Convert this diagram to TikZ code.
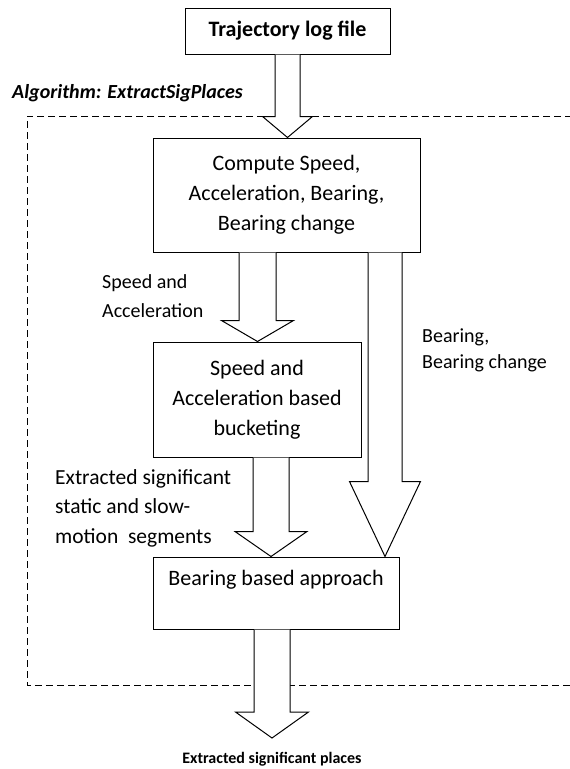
\documentclass[tikz,border=0pt]{standalone}
\usepackage{fontspec}
\setmainfont{Carlito}
\usetikzlibrary{calc}
\tikzset{
  box/.style={draw, line width=1pt, fill=white, inner sep=0pt, align=center,
    font=\fontsize{22}{30}\selectfont},
  lbl/.style={anchor=west, inner sep=0pt, align=left,
    font=\fontsize{20}{29}\selectfont},
  arrowbody/.style={draw, line width=1pt, fill=white, line join=miter},
  frame/.style={draw, line width=1pt, dash pattern=on 7pt off 4pt}
}
\newcommand\blockarrow[5]{%
  \path[arrowbody] let \p1=(#1), \p2=(#2) in
    (\x2-#3pt,\y1) -- (\x2-#3pt,\y2+#5pt) -- (\x2-#4pt,\y2+#5pt) -- (\x2,\y2)
    -- (\x2+#4pt,\y2+#5pt) -- (\x2+#3pt,\y2+#5pt) -- (\x2+#3pt,\y1);}
\begin{document}
\begin{tikzpicture}[x=1pt,y=-1pt]
\useasboundingbox (0,0) rectangle (570,769);
% dashed algorithm frame
\draw[frame] (572,116) -- (27,116) -- (27,685) -- (572,685);
\node[lbl, font=\fontsize{20}{24}\selectfont\bfseries\itshape] (alg) at (12,93) {Algorithm: ExtractSigPlaces};
% boxes
\node[box, font=\fontsize{22}{30}\selectfont\bfseries, minimum width=205pt, minimum height=46pt] (traj) at (287.5,31) {Trajectory log file};
\node[box, minimum width=267pt, minimum height=114pt] (compute) at (286.5,195) {Compute Speed,\\Acceleration, Bearing,\\Bearing change};
\node[box, minimum width=208pt, minimum height=115pt] (bucket) at (257,399.5) {Speed and\\Acceleration based\\bucketing};
\node[box, minimum width=246pt, minimum height=72pt] (bearing) at (276,593) {Bearing based approach\\\mbox{}};
\node[anchor=north, inner xsep=0pt, inner ysep=14pt, font=\fontsize{16}{20}\selectfont\bfseries] (out) at (272,738) {Extracted significant places};
% labels
\node[lbl] (l1) at (102,296.5) {Speed and\\Acceleration};
\node[lbl, font=\fontsize{20}{26}\selectfont] (l2) at (422,350) {Bearing,\\Bearing change};
\node[lbl, font=\fontsize{21.5}{29.5}\selectfont] (l3) at (55,508) {Extracted significant\\static and slow-\\motion\ \ segments};
% block arrows
\blockarrow{traj.south}{287.5,0 |- compute.north}{12.5}{25}{21}
\blockarrow{257.5,0 |- compute.south}{257.5,0 |- bucket.north}{18.5}{36}{21}
\blockarrow{385,0 |- compute.south}{385,0 |- bearing.north}{17}{35.5}{75}
\blockarrow{271,0 |- bucket.south}{271,0 |- bearing.north}{18}{36}{25}
\blockarrow{272,0 |- bearing.south}{out.north}{18}{36.5}{26}
\end{tikzpicture}
\end{document}
